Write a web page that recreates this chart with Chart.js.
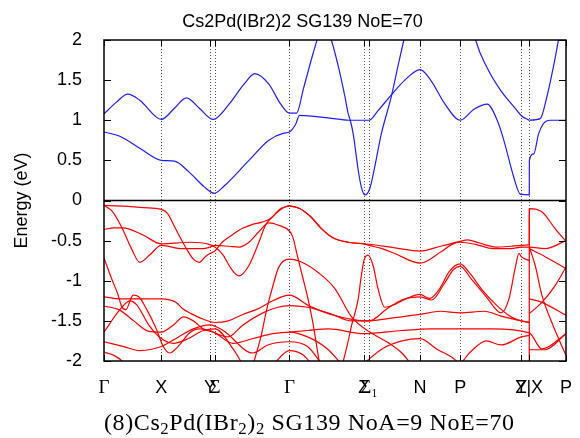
<!DOCTYPE html>
<html>
<head>
<meta charset="utf-8">
<script src="https://cdn.jsdelivr.net/npm/chart.js@4.4.0/dist/chart.umd.min.js"></script>
<style>
  html, body { margin: 0; padding: 0; background: #fff; }
  #wrap { position: relative; width: 580px; height: 438px; }
  #title { position: absolute; left: 0; top: 12px; width: 605px; text-align: center;
           font: 18px "Liberation Sans", Arial, sans-serif; line-height: 18px; color: #000; }
  #caption { position: absolute; left: 104px; top: 410px; white-space: nowrap; letter-spacing: 0.6px;
             font: 24px "Liberation Serif", "Times New Roman", serif; line-height: 24px; color: #000; }
  #caption sub { font-size: 0.7em; vertical-align: -0.22em; line-height: 0; }
</style>
</head>
<body>
<div id="wrap">
  <canvas id="chart" width="580" height="438"></canvas>
  <div id="title">Cs2Pd(IBr2)2 SG139 NoE=70</div>
  <div id="caption">(8)Cs<sub>2</sub>Pd(IBr<sub>2</sub>)<sub>2</sub> SG139 NoA=9 NoE=70</div>
</div>
<script>
// k-path: high-symmetry points (path length) and their labels
const kNodes  = [0, 57.7, 106.7, 111.7, 186.7, 261.7, 267, 318.3, 358.7, 420.3, 428.3, 465.3];
const kLabels = ['Γ', 'X', 'Y', 'Σ', 'Γ', 'Z', 'Σ₁', 'N', 'P', 'Y', 'Z|X', 'P'];
const yTicks  = [-2, -1.5, -1, -0.5, 0, 0.5, 1, 1.5, 2];

// conduction bands [k, E (eV)]
const cb1 = [[0,0.854],[16,0.8],[36,0.65],[57.7,0.5],[71,0.49],[86,0.35],[101,0.17],[111,0.09],[121,0.18],
  [146,0.5],[166,0.75],[181,0.84],[186.7,0.854],[193,0.95],[197,1.06],[226,1.03],[247,1.0],[267,1.0],[276,1.12],
  [289,1.31],[303,1.5],[318.3,1.63],[329,1.5],[343,1.21],[358.7,1.0],[373,1.14],[386,1.2],[396,1.0],[402.7,0.75],
  [412.7,0.29],[419.3,0.08],[428.3,0.07],[428.4,0.5],[432.7,0.58],[437.7,0.83],[442.7,0.96],[449.3,1.0],[465.3,1.0]];
const cb2 = [[0,1.08],[12,1.22],[24,1.325],[36,1.25],[57.7,1.01],[71,1.15],[83,1.28],[96,1.15],[110,1.01],
  [126,1.2],[141,1.45],[152,1.58],[166,1.45],[178,1.2],[186.7,1.09],[194,1.09],[201,1.4],[211,1.85],[216,2.05],
  [223,2.2],[229,2.0],[236,1.67],[242.7,1.29],[246,1.08],[248,1.0],[251,0.83],[256,0.38],[259.3,0.16],
  [262.7,0.07],[267.7,0.15],[272.7,0.42],[279.3,0.83],[289.3,1.29],[296,1.67],[302,2.0],[308,2.3]];
const cb3 = [[371,2.2],[374.3,2.0],[386,1.65],[399.3,1.375],[412.7,1.17],[421,1.05],[428.3,1.0]];
const cb4 = [[428.3,1.0],[439.3,1.02],[446,1.29],[452.7,1.67],[457.7,2.0],[462,2.3]];

// valence bands [k, E (eV)]
const vb1 = [[0,-0.06],[20,-0.07],[40,-0.09],[57.7,-0.11],[64,-0.16],[72,-0.35],[82,-0.58],[90,-0.73],[96,-0.77],
  [102,-0.7],[106.7,-0.66],[111.7,-0.63],[119,-0.52],[129,-0.43],[139,-0.35],[149,-0.3],[159,-0.27],[168,-0.22],
  [177,-0.12],[186.7,-0.067],[197,-0.1],[208,-0.2],[219,-0.35],[230,-0.46],[246,-0.52],[261.7,-0.54],[267,-0.545],
  [293,-0.59],[318.3,-0.63],[339,-0.57],[358.7,-0.51],[366,-0.49],[378,-0.53],[395,-0.58],[410,-0.57],
  [420.3,-0.56],[428.3,-0.55],[428.4,-0.1],[441,-0.14],[454.3,-0.35],[465.3,-0.51]];
const vb2 = [[186.7,-0.067],[197,-0.1],[208,-0.2],[219,-0.35],[230,-0.46],[246,-0.52],[261.7,-0.54],[267,-0.56],
  [280,-0.6],[292.7,-0.66],[318.3,-0.78],[339.3,-0.64],[350,-0.55],[358.7,-0.52],[375,-0.55],[392,-0.6],
  [410,-0.6],[420.3,-0.58],[428.3,-0.58],[444.3,-0.6],[465.3,-0.5]];
const vb3 = [[0,-0.06],[8,-0.13],[17.7,-0.33],[27.7,-0.6],[36,-0.77],[46,-0.68],[57.7,-0.56],[79,-0.6],
  [100,-0.6],[106.7,-0.58],[111.7,-0.56],[126,-0.57],[136,-0.58],[146,-0.52],[156,-0.39],[166,-0.28],
  [176,-0.31],[186.7,-0.38],[190,-0.45],[195,-0.7],[200,-0.95],[205,-1.2],[210,-1.5],[216,-1.95],[218,-2.1]];
const vb4 = [[0,-0.36],[10,-0.34],[19.3,-0.34],[39.3,-0.43],[57.7,-0.54],[86,-0.52],[106.7,-0.55],[111.7,-0.58],
  [120,-0.68],[128,-0.85],[136,-0.94],[146,-0.81],[156,-0.52],[163,-0.3],[170,-0.2],[178,-0.1],[186.7,-0.067]];
const vb5 = [[150,-2.05],[158,-1.7],[164,-1.35],[169.3,-1.1],[176,-0.83],[186.7,-0.73],[199.3,-0.77],[216,-0.9],
  [232.7,-1.1],[249.3,-1.45],[267.7,-1.64],[286,-1.77],[300,-1.9],[310,-2.05]];
const vb6 = [[0,-1.2],[16,-1.225],[40,-1.225],[57.7,-1.225],[72.7,-1.27],[79.3,-1.35],[87.7,-1.41],[100,-1.48],
  [111.7,-1.52],[125,-1.5],[140,-1.42],[155,-1.35],[170,-1.25],[186.7,-1.18],[206,-1.31],[226,-1.41],
  [245,-1.47],[261.7,-1.5],[267,-1.5],[285,-1.35],[300,-1.24],[318.3,-1.2],[330,-1.24],[342,-1.05],
  [352,-0.86],[358.7,-0.82],[370,-0.98],[385,-1.2],[400,-1.4],[408,-1.22],[414,-0.85],[418,-0.66],
  [420.3,-0.7],[428.3,-0.75]];
const vb7 = [[0,-0.717],[7.7,-0.975],[14.3,-1.18],[17.7,-1.32],[22,-1.36],[29.3,-1.18],[35,-1.2],[42.7,-1.35],
  [52.7,-1.6],[59.3,-1.81],[66,-1.9],[76,-1.8],[86,-1.65],[96,-1.6],[106.7,-1.62],[111.7,-1.65],[125,-1.7],
  [140,-1.55],[160,-1.4],[175,-1.33],[186.7,-1.31],[205,-1.33],[230,-1.42],[249,-1.5],[266,-1.5],[293,-1.46],
  [318.3,-1.42],[339,-1.38],[358.7,-1.4],[383,-1.38],[400,-1.44],[420.3,-1.5],[428.3,-1.52]];
const vb8 = [[0,-1.316],[15,-1.36],[30,-1.5],[45,-1.63],[57.7,-1.64],[70,-1.55],[80,-1.45],[90,-1.5],
  [100,-1.6],[111.7,-1.65],[130,-1.78],[150,-1.72],[170,-1.66],[186.7,-1.64],[205,-1.7],[225,-1.85],[240,-2.05]];
const vb9 = [[0,-1.64],[16,-1.36],[26,-1.25],[33,-1.3],[45,-1.55],[57.7,-1.72],[70,-1.78],[85,-1.72],
  [100,-1.62],[111.7,-1.6],[130,-1.85],[140,-2.05]];
const vb10 = [[0,-1.76],[20,-1.82],[36,-1.87],[57.7,-1.82],[75,-1.7],[90,-1.6],[106.7,-1.55],[120,-1.62],
  [150,-1.9],[165,-1.8],[186.7,-1.76],[205,-1.82],[220,-2.05]];
const vb11 = [[0,-1.89],[10,-1.93],[20,-2.02],[25,-2.1]];
const vb12 = [[170,-2.05],[186.7,-1.87],[200,-1.92],[210,-2.05]];
const vb13 = [[240,-2.05],[246,-1.75],[249.3,-1.56],[256,-1.23],[259,-0.95],[262,-0.74],[266,-0.68],[271,-0.81],
  [276,-1.1],[282.7,-1.33],[292,-1.3],[305,-1.22],[318.3,-1.17],[328,-1.22],[338,-1.1],[348,-0.88],
  [358.7,-0.79],[368,-0.9],[380,-1.1],[395,-1.3],[410,-1.45],[420.3,-1.5],[428.3,-1.52]];
const vb15 = [[186.7,-1.64],[205,-1.62],[226,-1.6],[262,-1.66],[300,-1.62],[330,-1.6],[358.7,-1.6],
  [390,-1.6],[428.3,-1.65],[441,-1.85],[465.3,-1.66]];
const vb16 = [[260,-2.05],[280,-1.85],[300,-1.75],[318.3,-1.72],[335,-1.85],[350,-1.95],[358.7,-2.02],
  [368,-1.9],[385,-1.75],[400,-1.8],[420.3,-1.7],[428.3,-1.68]];
const vb18 = [[428.3,-0.58],[434.3,-0.81],[441,-1.18],[451,-1.52],[465.3,-1.93]];
const vb19 = [[428.3,-0.6],[444.3,-0.7],[454.3,-0.77],[465.3,-0.85]];
const vb20 = [[428.3,-1.225],[441,-1.27],[465.3,-1.43]];
const vb21 = [[428.3,-1.41],[441,-1.27],[454.3,-1.06],[465.3,-0.83]];
const vb22 = [[428.3,-1.86],[444,-1.86],[465.3,-1.66]];
const zxJoin = [[428.3,-0.1],[428.31,-2.05]];

const conduction = [cb1, cb2, cb3, cb4];
const valence = [vb1, vb2, vb3, vb4, vb5, vb6, vb7, vb8, vb9, vb10, vb11, vb12, vb13, vb15,
                 vb16, vb18, vb19, vb20, vb21, vb22, zxJoin];

const blue = 'rgb(30, 30, 255)';
const red = 'rgb(255, 0, 0)';

function band(pts, color) {
  return {
    data: pts.map(([k, e]) => ({ x: k, y: e })),
    borderColor: color,
    borderWidth: 1.2,
    pointRadius: 0,
    showLine: true,
    cubicInterpolationMode: 'monotone',
    clip: 0,
  };
}

// frame, zero line, dotted k-point lines and inward tick marks (gnuplot look)
const framePlugin = {
  id: 'frame',
  beforeDatasetsDraw(chart) {
    const { ctx, chartArea: a, scales: { x } } = chart;
    ctx.save();
    ctx.strokeStyle = '#555';
    ctx.lineWidth = 1;
    ctx.setLineDash([1, 2]);
    kNodes.slice(1, -1).forEach((v) => {
      const px = Math.round(x.getPixelForValue(v)) + 0.5;
      ctx.beginPath();
      ctx.moveTo(px, a.top);
      ctx.lineTo(px, a.bottom);
      ctx.stroke();
    });
    ctx.restore();
  },
  afterDatasetsDraw(chart) {
    const { ctx, chartArea: a, scales: { x, y } } = chart;
    ctx.save();
    ctx.strokeStyle = '#000';
    ctx.lineWidth = 1.5;
    const y0 = y.getPixelForValue(0);
    ctx.beginPath();
    ctx.moveTo(a.left, y0);
    ctx.lineTo(a.right, y0);
    ctx.stroke();
    ctx.lineWidth = 1;
    yTicks.forEach((v) => {
      const py = Math.round(y.getPixelForValue(v)) + 0.5;
      ctx.beginPath();
      ctx.moveTo(a.left, py); ctx.lineTo(a.left + 7, py);
      ctx.moveTo(a.right, py); ctx.lineTo(a.right - 7, py);
      ctx.stroke();
    });
    kNodes.forEach((v) => {
      const px = Math.round(x.getPixelForValue(v)) + 0.5;
      ctx.beginPath();
      ctx.moveTo(px, a.bottom); ctx.lineTo(px, a.bottom - 6);
      ctx.moveTo(px, a.top); ctx.lineTo(px, a.top + 6);
      ctx.stroke();
    });
    ctx.lineWidth = 1.5;
    ctx.strokeRect(a.left, a.top, a.right - a.left, a.bottom - a.top);
    ctx.restore();
  },
};

const sans = '"Liberation Sans", Arial, sans-serif';
const serif = '"Liberation Serif", "Times New Roman", serif';

new Chart(document.getElementById('chart'), {
  type: 'scatter',
  data: {
    datasets: [
      ...valence.map((b) => band(b, red)),
      ...conduction.map((b) => band(b, blue)),
    ],
  },
  options: {
    responsive: false,
    animation: false,
    layout: { padding: { top: 40, right: 10, left: 0, bottom: 0 } },
    plugins: { legend: { display: false }, tooltip: { enabled: false } },
    scales: {
      x: {
        type: 'linear',
        min: 0,
        max: 465.3,
        afterBuildTicks: (s) => { s.ticks = kNodes.map((v) => ({ value: v })); },
        afterFit: (s) => { s.height = 77; },
        grid: { display: false },
        border: { display: false },
        ticks: {
          autoSkip: false,
          maxRotation: 0,
          padding: 8,
          color: '#000',
          callback: (v, i) => kLabels[i],
          font: (c) => {
            const lab = c.tick && kLabels[c.index];
            return /[ΓΣ]/.test(lab || '') ? { family: serif, size: 19 } : { family: sans, size: 18 };
          },
        },
      },
      y: {
        min: -2,
        max: 2,
        afterBuildTicks: (s) => { s.ticks = yTicks.map((v) => ({ value: v })); },
        afterFit: (s) => { s.width = 104; },
        grid: { display: false },
        border: { display: false },
        title: { display: true, text: 'Energy (eV)', color: '#000', font: { family: sans, size: 18 }, padding: { top: 11, bottom: 0 } },
        ticks: { padding: 14, color: '#000', font: { family: sans, size: 18 }, callback: (v) => String(v) },
      },
    },
  },
  plugins: [framePlugin],
});
</script>
</body>
</html>
